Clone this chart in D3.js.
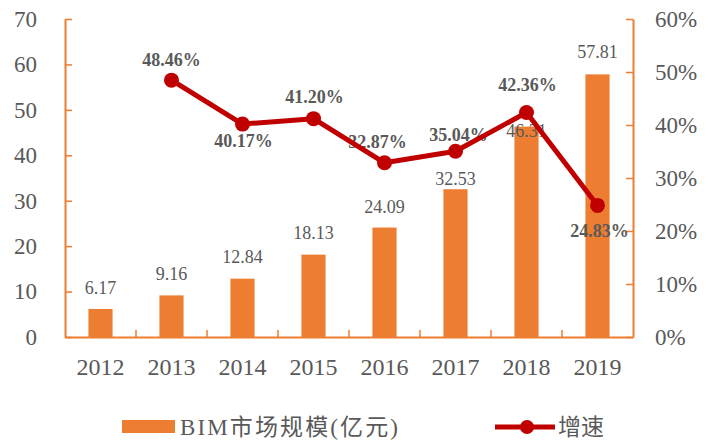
<!DOCTYPE html>
<html>
<head>
<meta charset="utf-8">
<title>BIM市场规模</title>
<script src="https://cdn.jsdelivr.net/npm/d3@7"></script>
<style>
  body { margin: 0; background: #fff; }
  svg text { font-family: "Liberation Serif", "Times New Roman", "Noto Sans CJK SC", serif; fill: #595959; }
</style>
</head>
<body>
<div id="chart"></div>
<script>
// chart data
var years = ["2012", "2013", "2014", "2015", "2016", "2017", "2018", "2019"];
var marketSize = [6.17, 9.16, 12.84, 18.13, 24.09, 32.53, 46.31, 57.81];
var growth = [null, 48.46, 40.17, 41.20, 32.87, 35.04, 42.36, 24.83];
var leftTicks = [0, 10, 20, 30, 40, 50, 60, 70];
var rightTicks = [0, 10, 20, 30, 40, 50, 60];
var legendNames = ["BIM市场规模(亿元)", "增速"];

// manual label nudges (px), like the hand-placed labels in the original
var barLabelLift = [15, 15, 16, 16, 15, 4, -10, 16];
var growthLabelShift = [null, [0, -14], [1, 23], [1, -16], [-7, -15], [3, -10], [1, -21], [2, 32]];

var width = 708, height = 445;
var plotLeft = 65, plotRight = 633, plotTop = 19, plotBottom = 337;
var orange = "#ED7D31", red = "#C00000";

var svg = d3.select("#chart").append("svg")
    .attr("width", width)
    .attr("height", height);

var x = d3.scaleBand().domain(years).range([plotLeft, plotRight]).padding(0);
var yL = d3.scaleLinear().domain([0, 70]).range([plotBottom, plotTop]);
var yR = d3.scaleLinear().domain([0, 60]).range([plotBottom, plotTop]);
var barW = x.bandwidth() * 0.34;

// left axis
var gL = svg.append("g").attr("transform", "translate(" + plotLeft + ",0)")
    .call(d3.axisLeft(yL).tickValues(leftTicks).tickSizeInner(-7).tickSizeOuter(0).tickPadding(28));
// right axis
var gR = svg.append("g").attr("transform", "translate(" + plotRight + ",0)")
    .call(d3.axisRight(yR).tickValues(rightTicks).tickSizeInner(-7).tickSizeOuter(0).tickPadding(22)
        .tickFormat(function(d) { return d + "%"; }));
// bottom axis, labels only; ticks go on band boundaries
var gB = svg.append("g").attr("transform", "translate(0," + plotBottom + ")")
    .call(d3.axisBottom(x).tickSize(0).tickPadding(21));

[gL, gR, gB].forEach(function(g) {
    g.attr("font-family", null);
    g.select(".domain").attr("stroke", orange).attr("stroke-width", 2);
    g.selectAll(".tick line").attr("stroke", orange).attr("stroke-width", 1.5);
    g.selectAll(".tick text").attr("fill", "#595959").style("font-size", "23px");
});
gB.selectAll(".tick text").style("font-size", "24px");

gB.selectAll(".bound").data(years.slice(1)).enter().append("line")
    .attr("x1", function(d) { return x(d); })
    .attr("x2", function(d) { return x(d); })
    .attr("y1", 0).attr("y2", -7)
    .attr("stroke", orange).attr("stroke-width", 1.5);

// bars
svg.selectAll(".bar").data(marketSize).enter().append("rect")
    .attr("class", "bar")
    .attr("x", function(d, i) { return x(years[i]) + x.bandwidth() / 2 - barW / 2; })
    .attr("y", function(d) { return yL(d); })
    .attr("width", barW)
    .attr("height", function(d) { return plotBottom - yL(d); })
    .attr("fill", orange);

svg.selectAll(".barlabel").data(marketSize).enter().append("text")
    .attr("x", function(d, i) { return x(years[i]) + x.bandwidth() / 2; })
    .attr("y", function(d, i) { return yL(d) - barLabelLift[i]; })
    .attr("text-anchor", "middle")
    .style("font-size", "18px")
    .text(function(d) { return d.toFixed(2); });

// growth labels (drawn under the line like the original)
var pts = growth.map(function(g, i) { return { year: years[i], g: g, i: i }; })
    .filter(function(p) { return p.g !== null; });

svg.selectAll(".glabel").data(pts).enter().append("text")
    .attr("x", function(p) { return x(p.year) + x.bandwidth() / 2 + growthLabelShift[p.i][0]; })
    .attr("y", function(p) { return yR(p.g) + growthLabelShift[p.i][1]; })
    .attr("text-anchor", "middle")
    .style("font-size", "18px")
    .style("font-weight", "bold")
    .text(function(p) { return p.g.toFixed(2) + "%"; });

var line = d3.line()
    .x(function(p) { return x(p.year) + x.bandwidth() / 2; })
    .y(function(p) { return yR(p.g); });

svg.append("path").datum(pts)
    .attr("d", line)
    .attr("fill", "none")
    .attr("stroke", red)
    .attr("stroke-width", 5)
    .attr("stroke-linejoin", "round");

svg.selectAll(".dot").data(pts).enter().append("circle")
    .attr("cx", function(p) { return x(p.year) + x.bandwidth() / 2; })
    .attr("cy", function(p) { return yR(p.g); })
    .attr("r", 7.5)
    .attr("fill", red);

// legend
var lg = svg.append("g");
lg.append("rect").attr("x", 122).attr("y", 420).attr("width", 53).attr("height", 13).attr("fill", orange);
lg.append("text").attr("x", 180).attr("y", 435).style("font-size", "23px")
    .attr("textLength", 218).attr("lengthAdjust", "spacing")
    .text(legendNames[0]);
lg.append("line").attr("x1", 495).attr("x2", 555).attr("y1", 427).attr("y2", 427)
    .attr("stroke", red).attr("stroke-width", 5);
lg.append("circle").attr("cx", 527).attr("cy", 427).attr("r", 7).attr("fill", red);
lg.append("text").attr("x", 558).attr("y", 435).style("font-size", "23px").text(legendNames[1]);
</script>
</body>
</html>
